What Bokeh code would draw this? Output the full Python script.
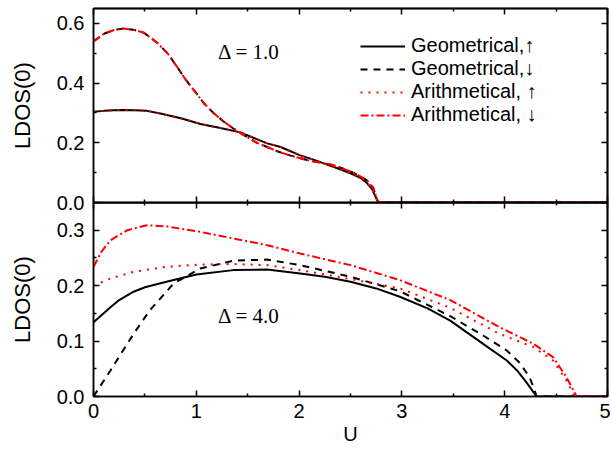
from bokeh.plotting import figure
from bokeh.models import (Range1d, LinearAxis, FixedTicker, Legend,
                          LegendItem, Label, NumeralTickFormatter)
from bokeh.layouts import column
from bokeh.embed import file_html
from bokeh.resources import INLINE

# ---------------- data: Delta = 1.0 (top panel) ----------------
u_d1_up = [0.0, 0.1, 0.2, 0.29, 0.4, 0.52, 0.65, 0.85, 1.04, 1.2, 1.43, 1.49, 1.69, 1.82,
           2.01, 2.11, 2.34, 2.5, 2.6, 2.66, 2.71, 2.77, 3.0, 4.0, 5.0]
geom_up_d1 = [0.304, 0.307, 0.309, 0.310, 0.309, 0.307, 0.298, 0.282, 0.263, 0.252, 0.235, 0.226,
              0.198, 0.186, 0.158, 0.147, 0.119, 0.098, 0.082, 0.065, 0.045, 0.0, 0.0, 0.0, 0.0]
arith_up_d1 = [0.304, 0.307, 0.309, 0.310, 0.309, 0.307, 0.298, 0.282, 0.263, 0.252, 0.235, 0.226,
               0.198, 0.186, 0.158, 0.147, 0.119, 0.098, 0.082, 0.065, 0.045, 0.0, 0.0, 0.0, 0.0]

u_d1_dn = [0.0, 0.1, 0.2, 0.29, 0.4, 0.49, 0.62, 0.72, 0.81, 0.9, 1.0, 1.08, 1.17, 1.27, 1.36,
           1.49, 1.59, 1.69, 1.8, 1.91, 2.1, 2.34, 2.5, 2.6, 2.66, 2.72, 2.77, 3.0, 4.0, 5.0]
geom_dn_d1 = [0.54, 0.565, 0.578, 0.583, 0.578, 0.569, 0.535, 0.50, 0.456, 0.41, 0.366, 0.33,
              0.299, 0.27, 0.248, 0.22, 0.20, 0.186, 0.17, 0.158, 0.14, 0.125, 0.104, 0.087,
              0.074, 0.05, 0.0, 0.0, 0.0, 0.0]
arith_dn_d1 = [0.54, 0.565, 0.578, 0.583, 0.578, 0.569, 0.535, 0.50, 0.456, 0.41, 0.366, 0.33,
               0.299, 0.27, 0.248, 0.22, 0.20, 0.186, 0.17, 0.158, 0.14, 0.125, 0.104, 0.087,
               0.074, 0.05, 0.0, 0.0, 0.0, 0.0]

# ---------------- data: Delta = 4.0 (bottom panel) ----------------
u_geom_up_d4 = [0.0, 0.05, 0.165, 0.25, 0.39, 0.5, 0.71, 1.0, 1.36, 1.69, 2.01, 2.25, 2.5, 2.75,
                2.98, 3.25, 3.47, 3.79, 4.02, 4.12, 4.21, 4.31, 5.0]
geom_up_d4 = [0.134, 0.142, 0.161, 0.174, 0.189, 0.197, 0.207, 0.220, 0.228, 0.229, 0.222, 0.216,
              0.207, 0.195, 0.180, 0.159, 0.137, 0.095, 0.065, 0.047, 0.026, 0.0, 0.0]

u_geom_dn_d4 = [0.0, 0.165, 0.39, 0.55, 0.78, 1.04, 1.36, 1.69, 2.01, 2.5, 2.98, 3.47, 3.79, 4.02,
                4.15, 4.24, 4.28, 4.31, 5.0]
geom_dn_d4 = [0.0, 0.047, 0.113, 0.156, 0.204, 0.231, 0.245, 0.247, 0.237, 0.216, 0.190, 0.145,
              0.110, 0.083, 0.060, 0.035, 0.017, 0.0, 0.0]

u_arith_up_d4 = [0.0, 0.165, 0.39, 0.71, 1.04, 1.36, 1.69, 2.01, 2.5, 2.98, 3.47, 3.95, 4.28, 4.47,
                 4.6, 4.68, 5.0]
arith_up_d4 = [0.20, 0.213, 0.225, 0.234, 0.238, 0.239, 0.237, 0.228, 0.212, 0.195, 0.160, 0.113,
               0.089, 0.065, 0.029, 0.0, 0.0]

u_arith_dn_d4 = [0.0, 0.08, 0.165, 0.33, 0.52, 0.71, 1.04, 1.36, 1.69, 2.01, 2.5, 2.98, 3.47, 3.95,
                 4.28, 4.47, 4.6, 4.7, 5.0]
arith_dn_d4 = [0.234, 0.262, 0.282, 0.300, 0.309, 0.307, 0.297, 0.285, 0.273, 0.258, 0.237, 0.210,
               0.174, 0.125, 0.095, 0.071, 0.035, 0.0, 0.0]

legend_labels = ["Geometrical,\u2191", "Geometrical,\u2193", "Arithmetical, \u2191", "Arithmetical, \u2193"]
panel_labels = ["\u0394 = 1.0", "\u0394 = 4.0"]

# tick positions
x_major = [0, 1, 2, 3, 4, 5]
x_minor = [0.5, 1.5, 2.5, 3.5, 4.5]
y1_major = [0.0, 0.2, 0.4, 0.6]
y1_minor = [0.1, 0.3, 0.5]
y2_major = [0.0, 0.1, 0.2, 0.3]
y2_minor = [0.05, 0.15, 0.25, 0.35]

FONT = "Liberation Sans"
RED = "#ff0000"


def base_axis(ax):
    ax.axis_line_color = "black"
    ax.axis_line_width = 1.5
    ax.major_tick_line_color = "black"
    ax.minor_tick_line_color = "black"
    ax.major_tick_line_width = 1.5
    ax.minor_tick_line_width = 1.5
    ax.major_tick_in = 6
    ax.major_tick_out = 0
    ax.minor_tick_in = 3
    ax.minor_tick_out = 0
    ax.major_label_text_font = FONT
    ax.major_label_text_color = "black"
    ax.major_label_text_font_size = "20px"
    ax.major_label_standoff = 9
    ax.axis_label_text_font = FONT
    ax.axis_label_text_font_style = "normal"
    ax.axis_label_text_color = "black"


def tick_only_axes(p, side, majors, minors):
    # axes that carry only (unlabelled) tick marks
    for pos, length in ((majors, 6), (minors, 3)):
        ax = LinearAxis(ticker=FixedTicker(ticks=[], minor_ticks=pos))
        ax.axis_line_color = "black"
        ax.axis_line_width = 1.5
        ax.minor_tick_line_color = "black"
        ax.minor_tick_line_width = 1.5
        ax.minor_tick_in = length
        ax.minor_tick_out = 0
        ax.major_tick_in = 0
        ax.major_tick_out = 0
        ax.major_label_standoff = 0
        p.add_layout(ax, side)


def make_fig(height, ymax, ymaj, ymin, top, bottom, labelled_x):
    p = figure(width=610, height=height, x_range=Range1d(0, 5), y_range=Range1d(0, ymax),
               output_backend="svg", toolbar_location=None,
               x_axis_location="below" if labelled_x else None, y_axis_location=None,
               min_border_left=93, min_border_right=3, min_border_top=top, min_border_bottom=bottom)
    p.xgrid.visible = False
    p.ygrid.visible = False
    p.outline_line_color = "black"
    p.outline_line_width = 1.5
    yax = LinearAxis(ticker=FixedTicker(ticks=ymaj, minor_ticks=ymin),
                     formatter=NumeralTickFormatter(format="0.0"))
    base_axis(yax)
    yax.axis_label = "LDOS(0)"
    yax.axis_label_text_font_size = "22px"
    yax.axis_label_standoff = 19
    p.add_layout(yax, "left")
    tick_only_axes(p, "right", ymaj, ymin)
    tick_only_axes(p, "above", x_major, x_minor)
    if labelled_x:
        xax = p.below[0]
        xax.ticker = FixedTicker(ticks=x_major, minor_ticks=x_minor)
        base_axis(xax)
        xax.major_label_standoff = 7
    else:
        tick_only_axes(p, "below", x_major, x_minor)
    return p


# ---------------- top panel ----------------
p1 = make_fig(214, 0.65, y1_major, y1_minor, 8, 12, False)
r1 = p1.line(u_d1_up, geom_up_d1, line_color="black", line_width=2)
r2 = p1.line(u_d1_dn, geom_dn_d1, line_color="black", line_width=2, line_dash="7 6")
r3 = p1.line(u_d1_up, arith_up_d1, line_color=RED, line_width=2, line_dash="2 6")
r4 = p1.line(u_d1_dn, arith_dn_d1, line_color=RED, line_width=2, line_dash="8 3 2 3")

legend = Legend(items=[LegendItem(label=legend_labels[0], renderers=[r1]),
                       LegendItem(label=legend_labels[1], renderers=[r2]),
                       LegendItem(label=legend_labels[2], renderers=[r3]),
                       LegendItem(label=legend_labels[3], renderers=[r4])],
                location=(267, 76), border_line_color=None, background_fill_alpha=0,
                padding=0, margin=0, glyph_width=45, glyph_height=20, label_height=20,
                label_standoff=6, spacing=0, label_text_font=FONT, label_text_font_size="20px",
                label_text_color="black")
p1.add_layout(legend)
p1.add_layout(Label(x=1.21, y=0.505, text=panel_labels[0], text_font="Liberation Serif",
                    text_font_size="21px", text_baseline="middle", text_color="black"))

# ---------------- bottom panel ----------------
p2 = make_fig(248, 0.35, y2_major, y2_minor, 0, 54, True)
p2.below[0].axis_label = "U"
p2.below[0].axis_label_text_font_size = "20px"
p2.below[0].axis_label_standoff = 2
p2.border_fill_alpha = 0
p2.background_fill_alpha = 0
p2.margin = (-12, 0, 0, 0)
p2.line(u_geom_up_d4, geom_up_d4, line_color="black", line_width=2)
p2.line(u_geom_dn_d4, geom_dn_d4, line_color="black", line_width=2, line_dash="7 6")
p2.line(u_arith_up_d4, arith_up_d4, line_color=RED, line_width=2, line_dash="2 6")
p2.line(u_arith_dn_d4, arith_dn_d4, line_color=RED, line_width=2, line_dash="8 3 2 3")
p2.add_layout(Label(x=1.21, y=0.145, text=panel_labels[1], text_font="Liberation Serif",
                    text_font_size="21px", text_baseline="middle", text_color="black"))

layout = column(p1, p2)
open("out.html", "w").write(file_html(layout, INLINE))
